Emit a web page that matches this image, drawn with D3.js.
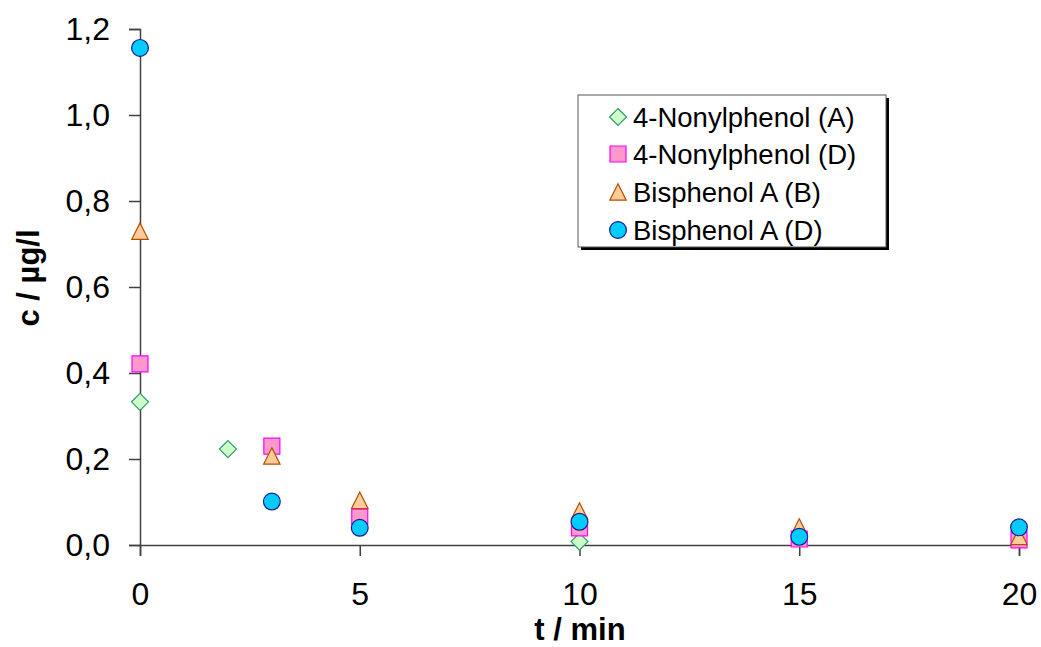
<!DOCTYPE html>
<html>
<head>
<meta charset="utf-8">
<script src="https://cdn.jsdelivr.net/npm/d3@7"></script>
<style>
  html, body { margin: 0; padding: 0; background: #fff; }
  svg { display: block; font-family: Arial, "Liberation Sans", Helvetica, sans-serif; }
</style>
</head>
<body>
<svg id="chart" width="1041" height="647"></svg>
<script>
// Concentration over time (µg/l vs min)
const xTicks = [0, 5, 10, 15, 20];
const yTicks = [0, 0.2, 0.4, 0.6, 0.8, 1.0, 1.2];

const nonylA_t = [0, 2, 10];
const nonylA_c = [0.333, 0.223, 0.008];

const nonylD_t = [0, 3, 5, 10, 15, 20];
const nonylD_c = [0.421, 0.230, 0.065, 0.040, 0.014, 0.012];

const bisB_t = [0, 3, 5, 10, 15, 20];
const bisB_c = [0.730, 0.207, 0.104, 0.079, 0.042, 0.020];

const bisD_t = [0, 3, 5, 10, 15, 20];
const bisD_c = [1.156, 0.101, 0.040, 0.054, 0.019, 0.041];

const seriesNames = ["4-Nonylphenol (A)", "4-Nonylphenol (D)", "Bisphenol A (B)", "Bisphenol A (D)"];

// Marker outlines, centred on the point (Excel-style: box as tall as it is wide)
const diamondPath = r => `M0,${-r}L${r},0L0,${r}L${-r},0Z`;
const squarePath = r => `M${-r},${-r}H${r}V${r}H${-r}Z`;
const trianglePath = r => `M0,${-r}L${r},${r}H${-r}Z`;
const circlePath = r => `M${r},0A${r},${r} 0 1,1 ${-r},0A${r},${r} 0 1,1 ${r},0Z`;

const series = [
  { name: seriesNames[0], t: nonylA_t, c: nonylA_c, path: diamondPath(8.5), fill: "#ccffcc", stroke: "#339966" },
  { name: seriesNames[1], t: nonylD_t, c: nonylD_c, path: squarePath(8),   fill: "#ff99cc", stroke: "#ff00ff" },
  { name: seriesNames[2], t: bisB_t,   c: bisB_c,   path: trianglePath(8.2), fill: "#ffcc99", stroke: "#b34d00" },
  { name: seriesNames[3], t: bisD_t,   c: bisD_c,   path: circlePath(8.4),   fill: "#00ccff", stroke: "#1a1a8c" }
];

const svg = d3.select("#chart");
const x = d3.scaleLinear().domain([0, 20]).range([140, 1019]);
const y = d3.scaleLinear().domain([0, 1.2]).range([545, 29]);
const fmt = v => d3.format(".1f")(v).replace(".", ",");
const axisColor = "#404040";

function styleAxis(g) {
  g.select(".domain").attr("stroke", axisColor).attr("stroke-width", 1.5);
  g.selectAll(".tick line").attr("stroke", axisColor).attr("stroke-width", 1.5);
  g.selectAll(".tick text").attr("font-size", 32).attr("fill", "#000")
    .attr("font-family", "Arial, 'Liberation Sans', sans-serif");
}

// Y axis
const gy = svg.append("g").attr("transform", `translate(${x(0)},0)`)
  .call(d3.axisLeft(y).tickValues(yTicks).tickSize(11).tickPadding(19).tickFormat(fmt));
styleAxis(gy);

// X axis
const gx = svg.append("g").attr("transform", `translate(0,${y(0)})`)
  .call(d3.axisBottom(x).tickValues(xTicks).tickSize(11).tickPadding(26).tickFormat(d3.format("d")));
styleAxis(gx);

// Axis titles
svg.append("text").attr("x", 580).attr("y", 640).attr("text-anchor", "middle")
  .attr("font-size", 31).attr("font-weight", "bold").text("t / min");
svg.append("text").attr("transform", `translate(39,278) rotate(-90)`).attr("text-anchor", "middle")
  .attr("font-size", 31).attr("font-weight", "bold").text("c / µg/l");

// Data markers
series.forEach(s => {
  const pts = s.t.map((t, i) => ({ t, c: s.c[i] }));
  svg.append("g").selectAll("path").data(pts).join("path")
    .attr("transform", d => `translate(${x(d.t)},${y(d.c)})`)
    .attr("d", s.path)
    .attr("fill", s.fill).attr("stroke", s.stroke).attr("stroke-width", 1.2);
});

// Legend with drop shadow
const lg = svg.append("g");
lg.append("rect").attr("x", 581).attr("y", 98).attr("width", 308).attr("height", 152).attr("fill", "#000");
lg.append("rect").attr("x", 578).attr("y", 95).attr("width", 308).attr("height", 152)
  .attr("fill", "#fff").attr("stroke", "#555").attr("stroke-width", 1);
const rowY = [117, 154, 192, 230];
series.forEach((s, i) => {
  lg.append("path").attr("transform", `translate(618,${rowY[i]})`)
    .attr("d", s.path)
    .attr("fill", s.fill).attr("stroke", s.stroke).attr("stroke-width", 1.2);
  lg.append("text").attr("x", 633).attr("y", rowY[i]).attr("dy", "0.36em")
    .attr("font-size", 27.5).attr("fill", "#000").text(s.name);
});
</script>
</body>
</html>
